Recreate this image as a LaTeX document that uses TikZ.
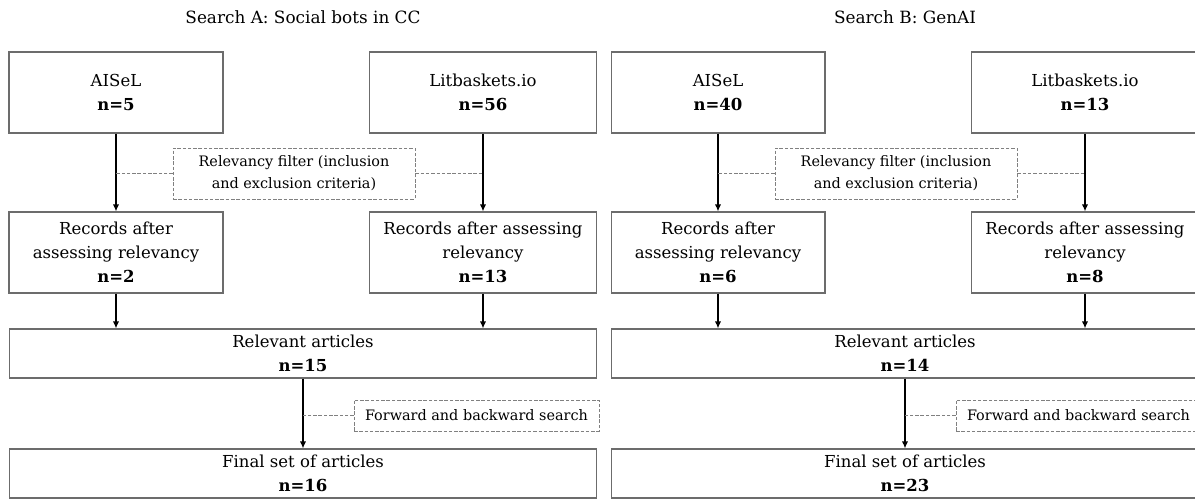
\documentclass[tikz,border=0pt]{standalone}
\usepackage{fontspec}
\setmainfont{DejaVu Serif}
\usepackage{tikz}
\usetikzlibrary{calc}
\usetikzlibrary{arrows.meta,positioning}
\tikzstyle{block} = [rectangle, draw=gray!85!black, line width=0.6pt,
    align=center, inner sep=0pt, font=\fontsize{9.4}{13.6}\selectfont]
\tikzstyle{filter} = [rectangle, draw=gray, dash pattern=on 2pt off 1pt, line width=0.5pt,
    align=center, inner sep=0pt, font=\fontsize{8.2}{12.5}\selectfont]
\tikzstyle{line} = [draw, line width=1.1pt, -{Latex[length=4pt,width=3.6pt]}]
\tikzstyle{link} = [draw=gray, dash pattern=on 2pt off 1pt, line width=0.5pt]

\begin{document}
\begin{tikzpicture}[x=0.02cm, y=-0.02cm]
\useasboundingbox (0,0) rectangle (1195,500);
%Search A:
\node[block, minimum width=4.28cm, minimum height=1.62cm](SA_AI) at (116,92.5) {AISeL\\\textbf{n=5}};
\node[block, minimum width=4.54cm, minimum height=1.62cm](SA_LB) at (483,92.5) {Litbaskets.io\\\textbf{n=56}};
\node[filter, minimum width=4.84cm, minimum height=1.02cm](SA_F) at (294,173.5) {Relevancy filter (inclusion\\and exclusion criteria)};
\node[block, minimum width=4.28cm, minimum height=1.62cm](SA_RAI) at (116,252.5) {Records after\\assessing relevancy\\\textbf{n=2}};
\node[block, minimum width=4.54cm, minimum height=1.62cm](SA_RLB) at (483,252.5) {Records after assessing\\relevancy\\\textbf{n=13}};
\node[block, minimum width=11.76cm, minimum height=0.98cm](SA_REL) at (303,353.5) {Relevant articles\\\textbf{n=15}};
\node[filter, minimum width=4.9cm, minimum height=0.62cm](SA_FB) at (476.5,415.5) {Forward and backward search};
\node[block, minimum width=11.76cm, minimum height=0.98cm](SA_FIN) at (303,473.5) {Final set of articles\\\textbf{n=16}};
\path(SA_AI)edge[line](SA_RAI);
\path(SA_LB)edge[line](SA_RLB);
\draw[link](SA_F.west) -- (SA_F.west -| SA_AI);
\draw[link](SA_F.east) -- (SA_F.east -| SA_LB);
\path(SA_RAI.south)edge[line](SA_RAI.south |- SA_REL.north);
\path(SA_RLB.south)edge[line](SA_RLB.south |- SA_REL.north);
\path(SA_REL)edge[line](SA_FIN);
\draw[link](SA_FB.west) -- (SA_FB.west -| SA_REL);
%Search B:
\node[block, minimum width=4.28cm, minimum height=1.62cm](SB_AI) at (718,92.5) {AISeL\\\textbf{n=40}};
\node[block, minimum width=4.54cm, minimum height=1.62cm](SB_LB) at (1085,92.5) {Litbaskets.io\\\textbf{n=13}};
\node[filter, minimum width=4.84cm, minimum height=1.02cm](SB_F) at (896,173.5) {Relevancy filter (inclusion\\and exclusion criteria)};
\node[block, minimum width=4.28cm, minimum height=1.62cm](SB_RAI) at (718,252.5) {Records after\\assessing relevancy\\\textbf{n=6}};
\node[block, minimum width=4.54cm, minimum height=1.62cm](SB_RLB) at (1085,252.5) {Records after assessing\\relevancy\\\textbf{n=8}};
\node[block, minimum width=11.76cm, minimum height=0.98cm](SB_REL) at (905,353.5) {Relevant articles\\\textbf{n=14}};
\node[filter, minimum width=4.9cm, minimum height=0.62cm](SB_FB) at (1078.5,415.5) {Forward and backward search};
\node[block, minimum width=11.76cm, minimum height=0.98cm](SB_FIN) at (905,473.5) {Final set of articles\\\textbf{n=23}};
\path(SB_AI)edge[line](SB_RAI);
\path(SB_LB)edge[line](SB_RLB);
\draw[link](SB_F.west) -- (SB_F.west -| SB_AI);
\draw[link](SB_F.east) -- (SB_F.east -| SB_LB);
\path(SB_RAI.south)edge[line](SB_RAI.south |- SB_REL.north);
\path(SB_RLB.south)edge[line](SB_RLB.south |- SB_REL.north);
\path(SB_REL)edge[line](SB_FIN);
\draw[link](SB_FB.west) -- (SB_FB.west -| SB_REL);
%Titles:
\node[font=\fontsize{9.6}{11}\selectfont](SA_t) at (303,17) {Search A: Social bots in CC};
\node[font=\fontsize{9.6}{11}\selectfont](SB_t) at (905,17) {Search B: GenAI};
\end{tikzpicture}
\end{document}
